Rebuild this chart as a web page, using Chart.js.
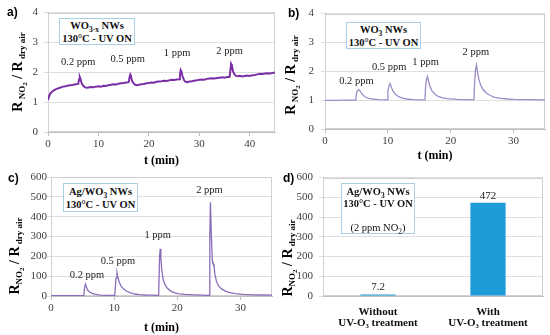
<!DOCTYPE html>
<html><head><meta charset="utf-8">
<script src="https://cdn.jsdelivr.net/npm/chart.js@4"></script>
<style>
body{margin:0;background:#fff}
#wrap{position:relative;width:550px;height:335px;overflow:hidden;background:#fff}
canvas{position:absolute}
.tag{position:absolute;font:bold 12px "Liberation Sans",Arial,sans-serif;color:#000}
.box{position:absolute;border:1px solid #a9cfe4;background:#fff;text-align:center;box-sizing:border-box;
 font:bold 10.5px/13px "Liberation Serif","Times New Roman",serif;color:#111;white-space:nowrap}
.box sub{font-size:7.5px;line-height:0}
.box .n{font-weight:normal}
</style></head>
<body><div id="wrap">
<canvas id="ca" width="277" height="168" style="left:0;top:0"></canvas>
<canvas id="cb" width="275" height="163" style="left:275px;top:0"></canvas>
<canvas id="cc" width="277" height="170" style="left:0;top:165px"></canvas>
<canvas id="cd" width="275" height="170" style="left:275px;top:165px"></canvas>
<div class="tag" style="left:7px;top:5px">a)</div>
<div class="tag" style="left:288px;top:6px">b)</div>
<div class="tag" style="left:8px;top:171px">c)</div>
<div class="tag" style="left:283px;top:171px">d)</div>
<div class="box" style="left:59px;top:18px;width:76px;height:27px">WO<sub>3-x</sub> NWs<br>130°C - UV ON</div>
<div class="box" style="left:346px;top:22px;width:75px;height:27px">WO<sub>3</sub> NWs<br>130°C - UV ON</div>
<div class="box" style="left:63px;top:183px;width:75px;height:29px;padding-top:1px">Ag/WO<sub>3</sub> NWs<br>130°C - UV ON</div>
<div class="box" style="left:341px;top:183px;width:74px;height:51px;padding-top:2px;line-height:12px">Ag/WO<sub>3</sub> NWs<br>130°C - UV ON<br>&nbsp;<br><span class="n">(2 ppm NO<sub>2</sub>)</span></div>
</div>
<script>
// a) WO3-x NWs
let tA=[0,0.2,0.5,1,1.5,2,2.5,3,3.5,4,4.5,5,5.5,6,6.15,6.3,6.45,6.7,7,7.3,7.6,
 8,8.5,9,9.5,10,10.5,11,11.5,12,12.5,13,13.5,14,14.5,15,15.5,16,16.15,16.3,16.45,16.7,17,17.3,17.6,
 18,18.5,19,19.5,20,20.5,21,21.5,22,22.5,23,23.5,24,24.5,25,25.5,26,26.15,26.3,26.45,26.7,27,27.3,27.6,
 28,28.5,29,29.5,30,30.5,31,31.5,32,32.5,33,33.5,34,34.5,35,35.5,36,36.15,36.3,36.45,36.7,37,37.3,37.6,
 38,38.5,39,39.5,40,40.5,41,41.5,42,42.5,43,43.5,44,44.5,45];
let rA=[1.07,1.2,1.3,1.38,1.43,1.46,1.49,1.52,1.53,1.56,1.57,1.58,1.6,1.61,1.76,1.84,1.77,1.62,1.55,1.5,1.48,
 1.49,1.51,1.5,1.52,1.53,1.52,1.55,1.54,1.57,1.58,1.6,1.59,1.62,1.63,1.64,1.66,1.67,1.82,1.92,1.85,1.7,1.63,1.58,1.57,
 1.58,1.6,1.61,1.63,1.64,1.66,1.65,1.68,1.69,1.7,1.72,1.71,1.73,1.75,1.74,1.76,1.77,1.9,2.07,2.02,1.85,1.73,1.68,1.67,
 1.69,1.7,1.72,1.73,1.75,1.76,1.75,1.78,1.79,1.8,1.79,1.81,1.82,1.83,1.82,1.84,1.85,2.05,2.28,2.22,2.02,1.92,1.88,1.87,
 1.88,1.86,1.88,1.89,1.88,1.9,1.91,1.93,1.95,1.94,1.96,1.97,1.96,1.98,1.99];

// b) WO3 NWs
let tB=[0,1,2,3,4,4.9,5.0,5.15,5.35,5.55,5.8,6.1,6.5,7,7.5,8.5,9.9,
 10.0,10.2,10.35,10.5,10.8,11.2,11.7,12.3,13,14,15.9,
 16.0,16.15,16.3,16.45,16.7,17,17.5,18,18.7,19.5,21,22.5,23.7,
 23.8,23.95,24.1,24.25,24.5,24.8,25.2,25.7,26.3,27,28,29,30,32,35];
let rB=[0.99,0.99,0.99,1.0,1.0,1.0,1.22,1.33,1.36,1.33,1.24,1.16,1.1,1.06,1.04,1.02,1.01,
 1.3,1.52,1.58,1.48,1.32,1.2,1.12,1.07,1.04,1.02,1.01,
 1.45,1.72,1.82,1.68,1.48,1.33,1.2,1.13,1.08,1.05,1.03,1.02,1.01,
 1.6,2.05,2.22,2.0,1.7,1.5,1.35,1.24,1.16,1.1,1.06,1.04,1.03,1.02,1.01];

// c) Ag/WO3 NWs
let tC=[0,2,4,5.1,5.2,5.3,5.45,5.6,5.8,6.1,6.5,7,7.5,8,9,
 10.0,10.1,10.3,10.45,10.6,10.8,11.1,11.5,12,12.6,13.3,14,15,16,
 17.0,17.05,17.2,17.3,17.4,17.55,17.75,18,18.4,18.9,19.5,20.3,21.2,22.5,24,
 25.0,25.05,25.15,25.25,25.4,25.55,25.65,25.8,25.95,26.2,26.5,27,27.6,28.3,29.2,30.5,32,33.5,35];
let rC=[2,2,2,2,3,40,60,45,30,20,13,9,6,4,3,
 3,5,90,118,95,70,50,35,24,16,10,7,5,4,
 3,5,200,238,190,130,85,60,40,26,17,11,8,6,4,
 3,5,300,472,300,175,165,160,110,75,52,36,25,17,12,8,6,5,4];

// d) bars
let barCats=[["Without","UV-O₃ treatment"],["With","UV-O₃ treatment"]];
let barVals=[7.2,472];
let ppm=["0.2 ppm","0.5 ppm","1 ppm","2 ppm"];

const SERIF='"Liberation Serif", "Times New Roman", serif';
Chart.defaults.font.family=SERIF;
Chart.defaults.color="#404040";
Chart.defaults.animation=false;

/* ---------- plugins ---------- */
const frame={id:"frame",beforeDatasetsDraw(c){
 let a=c.chartArea,x=c.ctx;
 x.save();x.strokeStyle="#d0d0d0";x.lineWidth=1;
 x.strokeRect(Math.round(a.left)+0.5,Math.round(a.top)+0.5,Math.round(a.width)-1,Math.round(a.height)-1);
 x.restore();
}};
const notes={id:"notes",afterDatasetsDraw(c,args,o){
 if(!o.items) return;
 let x=c.ctx;x.save();
 x.font=(o.size||10.5)+"px "+SERIF;x.fillStyle="#222";x.textAlign="center";x.textBaseline="middle";
 o.items.forEach((n,i)=>x.fillText(ppm[i],c.scales.x.getPixelForValue(n[0]),c.scales.y.getPixelForValue(n[1])));
 x.restore();
}};
const yTitle={id:"yTitle",afterDraw(c,args,o){
 if(!o.parts) return;
 let x=c.ctx,w=0;x.save();
 x.translate(o.x,o.y);x.rotate(-Math.PI/2);x.fillStyle="#000";x.textBaseline="alphabetic";
 o.parts.forEach(p=>{x.font="bold "+p.s+"px "+SERIF;w+=x.measureText(p.t).width;});
 let cx=-w/2;
 o.parts.forEach(p=>{x.font="bold "+p.s+"px "+SERIF;x.fillText(p.t,cx,5+(p.dy||0));cx+=x.measureText(p.t).width;});
 x.restore();
}};
const barLabels={id:"barLabels",afterDatasetsDraw(c){
 let x=c.ctx;x.save();
 x.font="11px "+SERIF;x.fillStyle="#222";x.textAlign="center";x.textBaseline="middle";
 c.getDatasetMeta(0).data.forEach((b,i)=>x.fillText(String(barVals[i]),b.x,b.y-7));
 x.restore();
}};

const partsSpace=[{t:"R",s:14},{t:" NO",s:9,dy:3},{t:"2",s:7,dy:5},{t:" / R",s:14},{t:" dry air",s:9,dy:3}];
const partsTight=[{t:"R",s:14},{t:"NO",s:9,dy:3},{t:"2",s:7,dy:5},{t:" / R",s:14},{t:" dry air",s:9,dy:3}];

function scales(xmax,ymax,ystep,axisW,axisH,yPad){
 return {
  x:{type:"linear",min:0,max:xmax,
   afterBuildTicks:s=>{s.ticks=s.ticks.filter(t=>t.value%10===0);},
   afterFit:s=>{s.height=axisH;},
   ticks:{stepSize:10,font:{size:11},color:"#404040",padding:2,maxRotation:0},
   grid:{drawOnChartArea:false,tickLength:4,color:"#bfbfbf"},
   border:{color:"#bfbfbf"},
   title:{display:true,text:"t (min)",font:{size:12,weight:"bold"},color:"#000",padding:0}},
  y:{min:0,max:ymax,afterFit:s=>{s.width=axisW;},
   ticks:{stepSize:ystep,font:{size:11},color:"#404040",padding:yPad},
   grid:{color:"#dedede",tickLength:4},
   border:{color:"#bfbfbf"}}
 };
}

function lineChart(id,xs,ys,col,lw,sc,pad,title,items){
 return new Chart(document.getElementById(id),{
  type:"line",
  data:{datasets:[{data:xs.map((t,i)=>({x:t,y:ys[i]})),borderColor:col,borderWidth:lw,pointRadius:0,tension:0}]},
  options:{responsive:false,layout:{padding:pad},scales:sc,
   plugins:{legend:{display:false},tooltip:{enabled:false},notes:{items:items},yTitle:title}},
  plugins:[frame,notes,yTitle]
 });
}

lineChart("ca",tA,rA,"#7b2fa6",2,scales(45,4,1,48,36,6),{top:12,right:2},
 {x:17,y:72,parts:partsSpace},[[6,2.33],[15.8,2.43],[25.6,2.63],[36,2.7]]);
lineChart("cb",tB,rB,"#9d8cc6",1.3,scales(35,4,1,50,34,7),{top:12,right:5},
 {x:15,y:75,parts:partsSpace},[[5,1.67],[10.2,2.13],[16,2.33],[24,2.65]]);
lineChart("cc",tC,rC,"#8a6db9",1.3,scales(35,600,100,51,39,0),{top:12,right:5},
 {x:14,y:91,parts:partsTight},[[5.7,103],[10.6,174],[16.9,305],[25.1,533]]);

new Chart(document.getElementById("cd"),{
 type:"bar",
 data:{labels:barCats,datasets:[{data:barVals,backgroundColor:"#1b9bd7",barPercentage:0.64,categoryPercentage:0.5}]},
 options:{responsive:false,layout:{padding:{top:12,right:7}},
  scales:{
   x:{afterFit:s=>{s.height=39;},
    ticks:{font:{size:11,weight:"bold",lineHeight:1},color:"#111",padding:3},
    grid:{display:false},border:{color:"#bfbfbf"}},
   y:{min:0,max:600,afterFit:s=>{s.width=48;},
    ticks:{stepSize:100,font:{size:11},color:"#404040",padding:6},
    grid:{color:"#dedede",tickLength:4},border:{color:"#bfbfbf"}}
  },
  plugins:{legend:{display:false},tooltip:{enabled:false},yTitle:{x:12,y:93,parts:partsTight}}},
 plugins:[frame,barLabels,yTitle]
});
</script>
</body></html>
